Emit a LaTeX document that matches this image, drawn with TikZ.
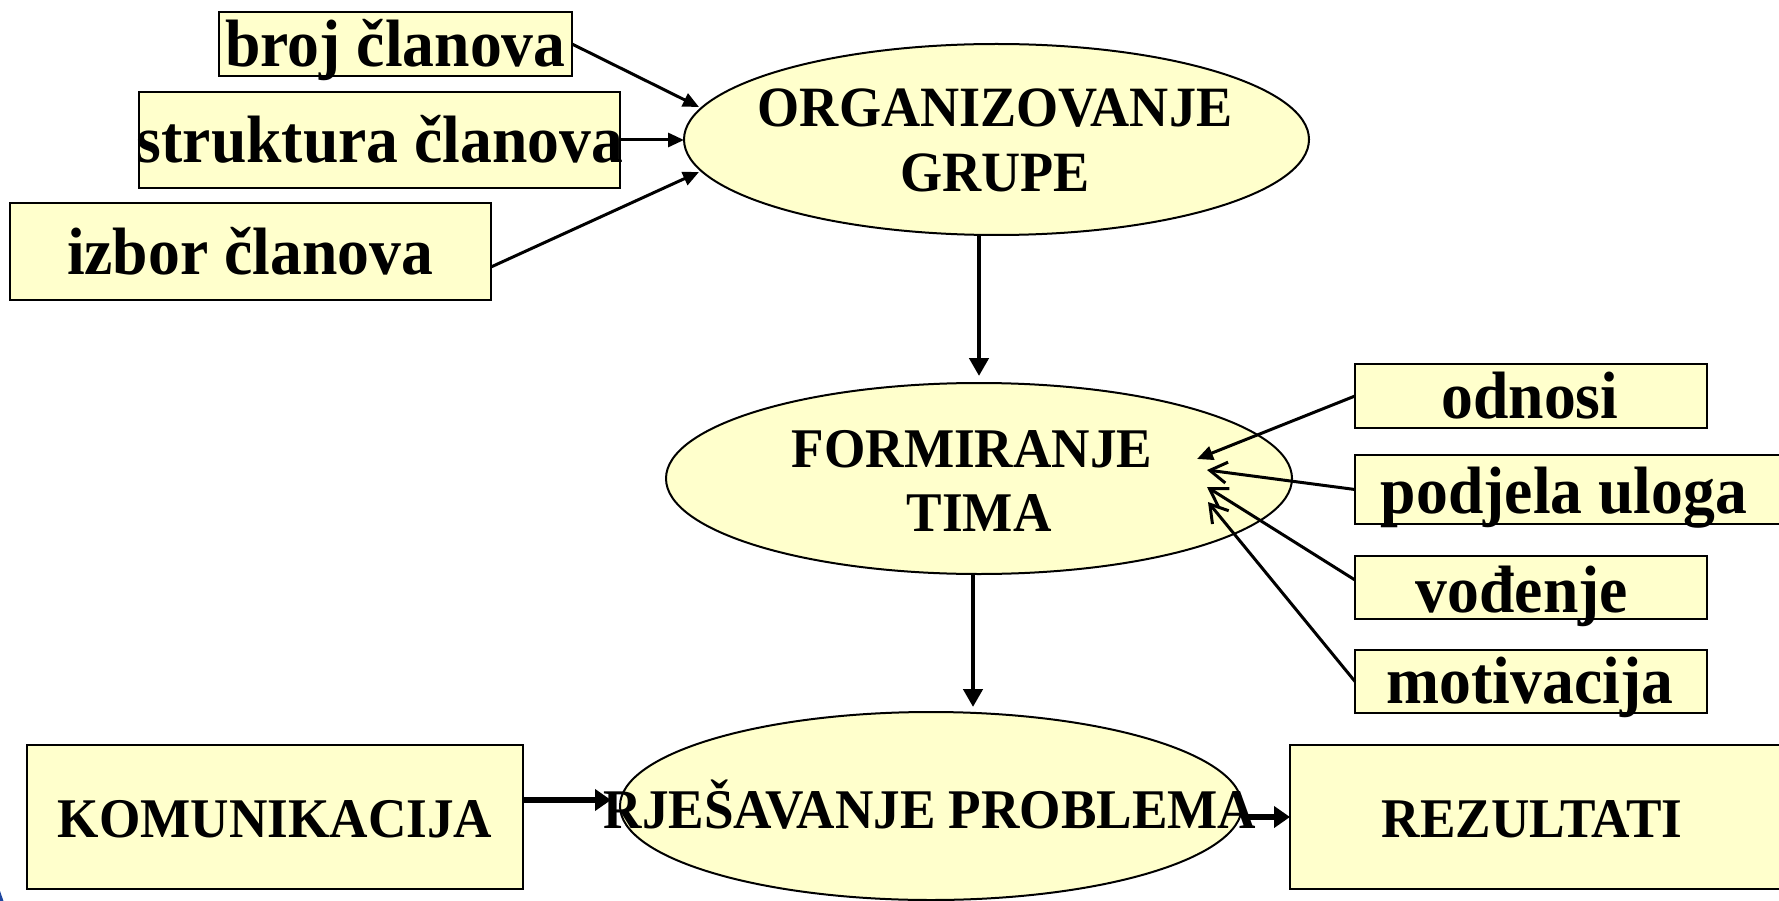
\documentclass[tikz,border=0pt]{standalone}
\usepackage{fontspec}
\setmainfont{Liberation Serif}[FakeStretch=0.95]
\usetikzlibrary{arrows.meta,shapes.geometric}
\definecolor{boxfill}{RGB}{255,255,204}
\definecolor{cornerblue}{RGB}{30,70,160}
\begin{document}
\begin{tikzpicture}[x=1pt,y=-1pt,
  box/.style={draw=black,line width=2.5pt,fill=boxfill,rectangle,inner sep=0pt,outer sep=0pt},
  oval/.style={draw=black,line width=2pt,fill=boxfill,ellipse,inner sep=0pt,outer sep=0pt},
  lowertxt/.style={font=\fontsize{67}{70}\selectfont\bfseries,anchor=base,inner sep=0pt},
  uppertxt/.style={font=\fontsize{56}{60}\selectfont\bfseries,anchor=base,inner sep=0pt},
  thinarrow/.style={line width=3pt,-{Triangle[length=16pt,width=14pt]}},
  openarrow/.style={line width=3pt,-{Straight Barb[length=17pt,width=21pt,line width=3pt]}},
  vertarrow/.style={line width=4.5pt,-{Triangle[length=18pt,width=19pt]}},
  heavyarrow/.style={line width=5.5pt,-{Triangle[length=16pt,width=21pt]}}]
\useasboundingbox (0,0) rectangle (1779,901);
\clip (0,0) rectangle (1779,901);
\fill[white] (0,0) rectangle (1779,901);

% corner fragment
\fill[cornerblue] (0,891) -- (3.5,901) -- (0,901) -- cycle;

% left boxes
\node[box,minimum width=353pt,minimum height=64pt] (broj) at (395.5,44) {};
\node[box,minimum width=481pt,minimum height=96pt] (struk) at (379.5,140) {};
\node[box,minimum width=481pt,minimum height=97pt] (izbor) at (250.5,251.5) {};

% right boxes
\node[box,minimum width=352pt,minimum height=64pt] (odn) at (1531,396) {};
\node[box,minimum width=440pt,minimum height=69pt] (pod) at (1575,489.5) {};
\node[box,minimum width=352pt,minimum height=63pt] (vod) at (1531,587.5) {};
\node[box,minimum width=352pt,minimum height=63pt] (mot) at (1531,681.5) {};

% bottom boxes
\node[box,minimum width=496pt,minimum height=144pt] (kom) at (275,817) {};
\node[box,minimum width=520pt,minimum height=144pt] (rez) at (1550,817) {};

% ellipses
\node[oval,minimum width=625pt,minimum height=191pt] (org) at (996.5,139.5) {};
\node[oval,minimum width=626pt,minimum height=191pt] (form) at (979,478.5) {};
\node[oval,minimum width=622pt,minimum height=188pt] (rj) at (931,806) {};

% arrow tips
\coordinate (t1) at (699,107);
\coordinate (t2) at (684,140);
\coordinate (t3) at (699,172);
\coordinate (t4) at (979,376);
\coordinate (t5) at (973,707);
\coordinate (t6) at (1197,459);
\coordinate (t7) at (1207,470);
\coordinate (t8) at (1207,487);
\coordinate (t9) at (1208,502);
\coordinate (t10) at (611,800);

% connectors
\draw[thinarrow] (broj.east) -- (t1);
\draw[thinarrow] (struk.east) -- (t2);
\draw[thinarrow] ([yshift=-15.5pt]izbor.east) -- (t3);
\draw[vertarrow] (org.south -| t4) -- (t4);
\draw[vertarrow] (form.south -| t5) -- (t5);
\draw[thinarrow] (odn.west) -- (t6);
\draw[openarrow] (pod.west) -- (t7);
\draw[openarrow] ([yshift=7.5pt]vod.west) -- (t8);
\draw[openarrow] (mot.west) -- (t9);
\draw[heavyarrow] ([yshift=17pt]kom.east) -- (t10);
\draw[heavyarrow] (rj.east |- rez.west) -- (rez.west);

% texts
\node[lowertxt] (brojT) at (395.5,67) {broj članova};
\node[lowertxt] (strukT) at (380,163) {struktura članova};
\node[lowertxt] (izborT) at (250,275) {izbor članova};
\node[lowertxt] (odnT) at (1530,418) {odnosi};
\node[lowertxt] (podT) at (1564,513) {podjela uloga};
\node[lowertxt] (vodT) at (1522,612) {vođenje};
\node[lowertxt] (motT) at (1530,703) {motivacija};
\node[uppertxt,font=\fontsize{57}{60}\selectfont\bfseries] (orgT1) at (995,127) {ORGANIZOVANJE};
\node[uppertxt,font=\fontsize{57}{60}\selectfont\bfseries] (orgT2) at (995,192) {GRUPE};
\node[uppertxt] (formT1) at (972,467) {FORMIRANJE};
\node[uppertxt] (formT2) at (979,531) {TIMA};
\node[uppertxt] (komT) at (275,837) {KOMUNIKACIJA};
\node[uppertxt] (rjT) at (930,828) {RJEŠAVANJE PROBLEMA};
\node[uppertxt] (rezT) at (1532,837) {REZULTATI};
\end{tikzpicture}
\end{document}
